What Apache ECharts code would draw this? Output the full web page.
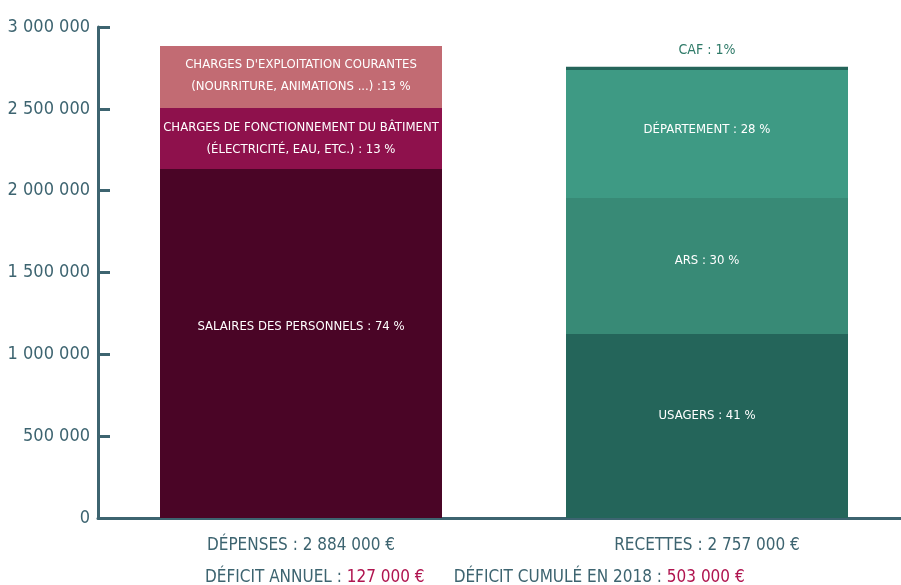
<!DOCTYPE html>
<html>
<head>
<meta charset="utf-8">
<script src="https://cdn.jsdelivr.net/npm/echarts@6/dist/echarts.min.js"></script>
<style>
  html, body { margin: 0; padding: 0; background: #fff; }
  #chart { width: 901px; height: 585px; }
</style>
</head>
<body>
<div id="chart"></div>
<script>
const categories = ["DÉPENSES : 2 884 000 €", "RECETTES : 2 757 000 €"];

// stacks, bottom to top
const salaires = [2132000, null];
const fonctionnement = [373000, null];
const exploitation = [379000, null];
const usagers = [null, 1124000];
const ars = [null, 831000];
const departement = [null, 782000];
const caf = [null, 20000];

const labelSalaires = "SALAIRES DES PERSONNELS : 74 %";
const labelFonctionnement = "CHARGES DE FONCTIONNEMENT DU BÂTIMENT\n(ÉLECTRICITÉ, EAU, ETC.) : 13 %";
const labelExploitation = "CHARGES D'EXPLOITATION COURANTES\n(NOURRITURE, ANIMATIONS ...) :13 %";
const labelUsagers = "USAGERS : 41 %";
const labelArs = "ARS : 30 %";
const labelDepartement = "DÉPARTEMENT : 28 %";
const labelCaf = "CAF : 1%";

const deficitAnnuel = "127 000 €";
const deficitCumule = "503 000 €";

const FONT = "'DejaVu Sans Condensed', sans-serif";
const AXIS = "#3d6470";

const fmt = (v) => String(v).replace(/\B(?=(\d{3})+(?!\d))/g, " ");

const inLabel = (text, dy) => ({
  show: true,
  position: "inside",
  offset: [0, dy || 0],
  formatter: text,
  color: "#fff",
  fontFamily: FONT,
  fontSize: 13,
  lineHeight: 22,
});

const stackBar = (name, data, color, text, dy) => ({
  name,
  type: "bar",
  stack: "total",
  data,
  barWidth: 282,
  itemStyle: { color },
  label: inLabel(text, dy),
});

const chart = echarts.init(document.getElementById("chart"));
chart.setOption({
  animation: false,
  grid: { left: 98, top: 27, width: 812, height: 491, outerBoundsMode: "none", containLabel: false },
  xAxis: {
    type: "category",
    data: categories,
    axisLine: { lineStyle: { color: AXIS, width: 3 } },
    axisTick: { inside: true, length: 10, lineStyle: { color: AXIS, width: 3 } },
    axisLabel: { color: AXIS, fontFamily: FONT, fontSize: 17, margin: 19 },
  },
  yAxis: {
    type: "value",
    min: 0,
    max: 3000000,
    interval: 500000,
    axisLine: { show: true, lineStyle: { color: AXIS, width: 3 } },
    axisTick: { show: true, inside: true, length: 12, lineStyle: { color: AXIS, width: 3 } },
    splitLine: { show: false },
    axisLabel: { color: AXIS, fontFamily: FONT, fontSize: 18, margin: 8, formatter: fmt },
  },
  series: [
    stackBar("Salaires", salaires, "#4a0526", labelSalaires, -17),
    stackBar("Fonctionnement", fonctionnement, "#8e114c", labelFonctionnement, 0),
    stackBar("Exploitation", exploitation, "#c26b73", labelExploitation, -1),
    stackBar("Usagers", usagers, "#24655a", labelUsagers, -10),
    stackBar("ARS", ars, "#388a76", labelArs, -5),
    stackBar("Département", departement, "#3e9a84", labelDepartement, -4),
    {
      ...stackBar("CAF", caf, "#24655a", labelCaf, 0),
      label: { ...inLabel(labelCaf, 0), position: "top", color: "#2e7a68", fontSize: 14, distance: 5 },
    },
  ],
  graphic: [
    {
      type: "text",
      left: 205,
      top: 569,
      style: {
        text: "{a|DÉFICIT ANNUEL : }{b|" + deficitAnnuel + "}{a|      DÉFICIT CUMULÉ EN 2018 : }{b|" + deficitCumule + "}",
        rich: {
          a: { fill: AXIS, fontFamily: FONT, fontSize: 17 },
          b: { fill: "#b0144f", fontFamily: FONT, fontSize: 17 },
        },
      },
    },
  ],
});
</script>
</body>
</html>
